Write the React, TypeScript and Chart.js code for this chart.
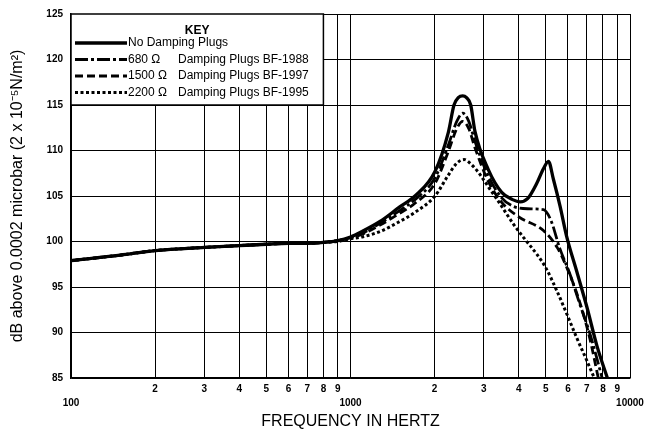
import React, { useEffect, useRef } from 'react';
import { Chart, registerables } from 'chart.js';

Chart.register(...registerables);

// ---- Data (frequency in Hz, level in dB) ----
const noPlugsFreq = [100, 150, 200, 300, 400, 500, 600, 700, 800, 900, 1000, 1100, 1275, 1500, 1701, 2006, 2239, 2346, 2430, 2520, 2600, 2692, 2788, 3112, 3475, 3800, 4040, 4300, 4640, 4900, 5110, 5315, 5620, 5930, 6450, 7010, 7620, 8300];
const noPlugsDb = [97.9, 98.5, 99.0, 99.35, 99.55, 99.7, 99.8, 99.8, 99.9, 100.1, 100.5, 101.1, 102.2, 103.8, 105.0, 107.7, 112.0, 115.0, 115.8, 116.0, 115.8, 115.0, 112.1, 107.9, 105.4, 104.6, 104.35, 104.7, 106.4, 108.0, 108.8, 106.9, 103.9, 100.6, 96.7, 92.8, 88.5, 85];

const plug680Freq = [100, 150, 200, 300, 400, 500, 600, 700, 800, 900, 1000, 1100, 1275, 1500, 1701, 2006, 2239, 2400, 2520, 2650, 2788, 3112, 3475, 3800, 4300, 4900, 5200, 5600, 6100, 6600, 7200, 7950];
const plug680Db = [97.9, 98.5, 99.0, 99.35, 99.55, 99.7, 99.8, 99.8, 99.9, 100.1, 100.4, 100.9, 102.0, 103.4, 104.6, 107.0, 110.6, 113.2, 114.1, 113.2, 111.0, 107.2, 104.8, 103.9, 103.6, 103.5, 102.4, 99.3, 96.4, 93.2, 89.8, 85];

const plug1500Freq = [100, 150, 200, 300, 400, 500, 600, 700, 800, 900, 1000, 1100, 1275, 1500, 1701, 2006, 2239, 2400, 2520, 2650, 2788, 3112, 3475, 4000, 4900, 5500, 5950, 6600, 7200, 7700];
const plug1500Db = [97.9, 98.5, 99.0, 99.35, 99.55, 99.7, 99.8, 99.8, 99.9, 100.1, 100.4, 100.8, 101.8, 103.1, 104.2, 106.4, 109.9, 112.4, 113.2, 112.4, 110.3, 106.6, 104.3, 102.7, 101.2, 99.3, 97.1, 93.4, 89.2, 85];

const plug2200Freq = [100, 150, 200, 300, 400, 500, 600, 700, 800, 900, 1000, 1100, 1275, 1500, 1701, 2006, 2239, 2400, 2550, 2700, 2900, 3130, 3350, 3850, 4170, 4640, 5000, 5470, 5930, 6450, 7010, 7450];
const plug2200Db = [97.9, 98.5, 99.0, 99.35, 99.55, 99.7, 99.8, 99.8, 99.9, 100.0, 100.3, 100.5, 101.1, 102.2, 103.2, 105.0, 107.3, 108.6, 109.0, 108.5, 107.4, 105.9, 104.6, 101.8, 100.4, 98.6, 97.1, 94.6, 92.1, 89.4, 86.9, 85];

const seriesOhms = ['', '680 Ω', '1500 Ω', '2200 Ω'];
const seriesNames = ['No Damping Plugs', 'Damping Plugs BF-1988', 'Damping Plugs BF-1997', 'Damping Plugs BF-1995'];

const xTickValues = [100, 200, 300, 400, 500, 600, 700, 800, 900, 1000, 2000, 3000, 4000, 5000, 6000, 7000, 8000, 9000, 10000];
const yMin = 85;
const yMax = 125;
const yStep = 5;

const keyTitle = 'KEY';
const xTitle = 'FREQUENCY IN HERTZ';
const yTitle = 'dB above 0.0002 microbar (2 x 10⁻⁵N/m²)';

const FONT = "'Liberation Sans', Arial, Helvetica, sans-serif";

const toPoints = (xs: number[], ys: number[]) => xs.map((x, i) => ({ x, y: ys[i] }));

const keyPlugin = {
  id: 'keyBox',
  afterDraw(chart: any) {
    const { ctx, chartArea, scales } = chart;
    const xs = scales.x;
    const ys = scales.y;
    const left = chartArea.left;
    const top = chartArea.top;
    const right = xs.getPixelForValue(800);
    const bottom = ys.getPixelForValue(115);
    ctx.save();
    ctx.fillStyle = '#fff';
    ctx.fillRect(left, top, right - left, bottom - top);
    ctx.strokeStyle = '#000';
    ctx.lineWidth = 1.5;
    ctx.strokeRect(left, top, right - left, bottom - top);
    ctx.fillStyle = '#000';
    ctx.textBaseline = 'middle';
    ctx.font = `bold 12px ${FONT}`;
    ctx.textAlign = 'center';
    ctx.fillText(keyTitle, (left + right) / 2, top + 17);
    ctx.textAlign = 'left';
    ctx.font = `12px ${FONT}`;
    chart.data.datasets.forEach((ds: any, i: number) => {
      const yy = top + 29 + i * 16.5;
      ctx.save();
      ctx.strokeStyle = '#000';
      ctx.lineWidth = ds.borderWidth;
      ctx.setLineDash(ds.borderDash || []);
      ctx.beginPath();
      ctx.moveTo(left + 4, yy);
      ctx.lineTo(left + 56, yy);
      ctx.stroke();
      ctx.restore();
      if (seriesOhms[i]) {
        ctx.fillText(seriesOhms[i], left + 57, yy);
        ctx.fillText(seriesNames[i], left + 107, yy);
      } else {
        ctx.fillText(seriesNames[i], left + 57, yy);
      }
    });
    ctx.restore();
  },
};

export default function App() {
  const ref = useRef<HTMLCanvasElement | null>(null);
  useEffect(() => {
    if (!ref.current) return;
    Chart.defaults.font.family = FONT;
    Chart.defaults.color = '#000';
    const common = { pointRadius: 0, fill: false, cubicInterpolationMode: 'monotone' as const, borderColor: '#000', borderCapStyle: 'butt' as const };
    const chart = new Chart(ref.current, {
      type: 'line',
      data: {
        datasets: [
          { ...common, label: seriesNames[0], data: toPoints(noPlugsFreq, noPlugsDb), borderWidth: 3.3, borderDash: [] },
          { ...common, label: seriesNames[1], data: toPoints(plug680Freq, plug680Db), borderWidth: 2.8, borderDash: [13, 3, 3, 3] },
          { ...common, label: seriesNames[2], data: toPoints(plug1500Freq, plug1500Db), borderWidth: 2.8, borderDash: [8, 4] },
          { ...common, label: seriesNames[3], data: toPoints(plug2200Freq, plug2200Db), borderWidth: 3, borderDash: [3, 2.5] },
        ],
      },
      options: {
        animation: false,
        responsive: false,
        maintainAspectRatio: false,
        layout: { padding: { left: 0, right: 18, top: 6, bottom: 0 } },
        plugins: { legend: { display: false }, tooltip: { enabled: false } },
        scales: {
          x: {
            type: 'logarithmic',
            min: 100,
            max: 10000,
            afterBuildTicks: (scale: any) => {
              scale.ticks = xTickValues.map((v) => ({ value: v }));
            },
            afterFit: (scale: any) => {
              scale.height = 55;
            },
            ticks: {
              autoSkip: false,
              maxRotation: 0,
              padding: 4,
              font: { size: 10, weight: 'bold', lineHeight: 1.4 },
              color: '#000',
              callback: (v: any) => {
                const n = Number(v);
                const exp = Math.round(Math.log10(n));
                if (Math.abs(n - Math.pow(10, exp)) < 1e-6) return ['', String(n)];
                return [String(Math.round(n / Math.pow(10, Math.floor(Math.log10(n)))))];
              },
            },
            grid: { color: '#000', lineWidth: 1, drawTicks: false },
            border: { color: '#000', width: 1.5 },
            title: { display: true, text: xTitle, font: { size: 16 }, color: '#000', padding: { top: 0, bottom: 2 } },
          },
          y: {
            type: 'linear',
            min: yMin,
            max: yMax,
            afterFit: (scale: any) => {
              scale.width = 71;
            },
            ticks: { stepSize: yStep, padding: 8, font: { size: 10, weight: 'bold' }, color: '#000' },
            grid: { color: '#000', lineWidth: 1, drawTicks: false },
            border: { color: '#000', width: 1.5 },
            title: { display: true, text: yTitle, font: { size: 16 }, color: '#000', padding: { top: 8, bottom: 0 } },
          },
        },
      },
      plugins: [keyPlugin],
    });
    return () => chart.destroy();
  }, []);
  return (
    <div style={{ position: 'fixed', left: 0, top: 0, width: 648, height: 433, background: '#fff' }}>
      <canvas ref={ref} width={648} height={433} />
    </div>
  );
}
